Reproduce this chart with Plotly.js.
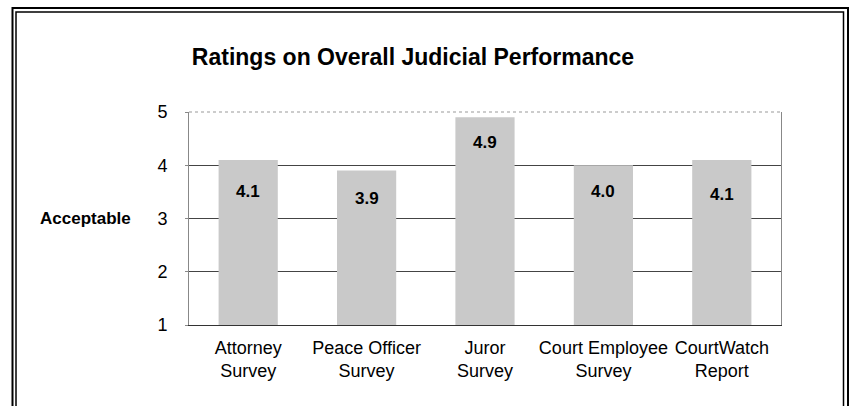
<!DOCTYPE html>
<html>
<head>
<meta charset="utf-8">
<script src="https://cdn.plot.ly/plotly-3.0.1.min.js"></script>
<style>
  html, body { margin: 0; padding: 0; background: #fff; }
  #chart { width: 850px; height: 406px; }
</style>
</head>
<body>
<div id="chart"></div>
<script>
// ---- data ----
var categories = ["Attorney<br>Survey", "Peace Officer<br>Survey", "Juror<br>Survey", "Court Employee<br>Survey", "CourtWatch<br>Report"];
var ratings = [4.1, 3.9, 4.9, 4.0, 4.1];
var valueLabels = ["4.1", "3.9", "4.9", "4.0", "4.1"];
var yTickValues = [1, 2, 3, 4, 5];
var yTickLabels = ["1", "2", "3", "4", "5"];
var chartTitle = "Ratings on Overall Judicial Performance";
var sideLabel = "Acceptable";

// ---- styles ----
var labelShift = [-32, -28, -25, -26, -35];
var font = "Arial, 'Liberation Sans', Helvetica, sans-serif";

var trace = {
  type: "bar",
  x: categories,
  y: ratings,
  width: 0.5,
  marker: {
    color: "#c9c9c9",
    line: { width: 0 }
  },
  hoverinfo: "none"
};

var annotations = ratings.map(function (v, i) {
  return {
    x: categories[i], y: v, xref: "x", yref: "y",
    text: "<b>" + valueLabels[i] + "</b>",
    showarrow: false, yanchor: "middle", yshift: labelShift[i],
    font: { family: font, size: 17, color: "#000" }
  };
});
annotations.push({
  xref: "paper", yref: "y", x: (85 - 189) / 592, y: 3, xanchor: "center", yanchor: "middle",
  text: "<b>" + sideLabel + "</b>", showarrow: false,
  font: { family: font, size: 17, color: "#000" }
});

var px = function (p) { return (p - 189) / 592; };
var py = function (p) { return (325 - p) / 213; };

var shapes = [
  { type: "rect", xref: "paper", yref: "paper", x0: px(12.5), x1: px(848), y0: py(430), y1: py(8),
    line: { color: "#000", width: 2 }, fillcolor: "rgba(0,0,0,0)" },
  { type: "rect", xref: "paper", yref: "paper", x0: px(16), x1: px(843.5), y0: py(430), y1: py(12),
    line: { color: "#000", width: 1.5 }, fillcolor: "rgba(0,0,0,0)" },
  { type: "line", xref: "paper", yref: "paper", x0: 0, x1: 1, y0: 1, y1: 1,
    line: { color: "#999", width: 1, dash: "dot" } }
];

var layout = {
  width: 850, height: 406,
  margin: { l: 189, r: 69, t: 112, b: 81 },
  paper_bgcolor: "#fff", plot_bgcolor: "#fff",
  showlegend: false,
  title: {
    text: "<b>" + chartTitle + "</b>",
    x: 413 / 850, xanchor: "center", xref: "container",
    y: 1 - 57 / 406, yanchor: "middle", yref: "container",
    font: { family: font, size: 23, color: "#000" }
  },
  xaxis: {
    type: "category",
    showline: true, linecolor: "#333", linewidth: 1, mirror: false,
    showgrid: false, ticks: "", ticklabelstandoff: 6,
    tickfont: { family: font, size: 18, color: "#000" },
    fixedrange: true
  },
  yaxis: {
    range: [1, 5], tickvals: yTickValues, ticktext: yTickLabels,
    showline: true, linecolor: "#888", linewidth: 1, mirror: true,
    showgrid: true, gridcolor: "#444", gridwidth: 1,
    zeroline: false, ticks: "outside", ticklen: 3, tickcolor: "#888",
    ticklabelstandoff: 14,
    tickfont: { family: font, size: 18, color: "#000" },
    fixedrange: true
  },
  annotations: annotations,
  shapes: shapes,
  bargap: 0.5
};

Plotly.newPlot("chart", [trace], layout, { displayModeBar: false, staticPlot: true });
</script>
</body>
</html>
